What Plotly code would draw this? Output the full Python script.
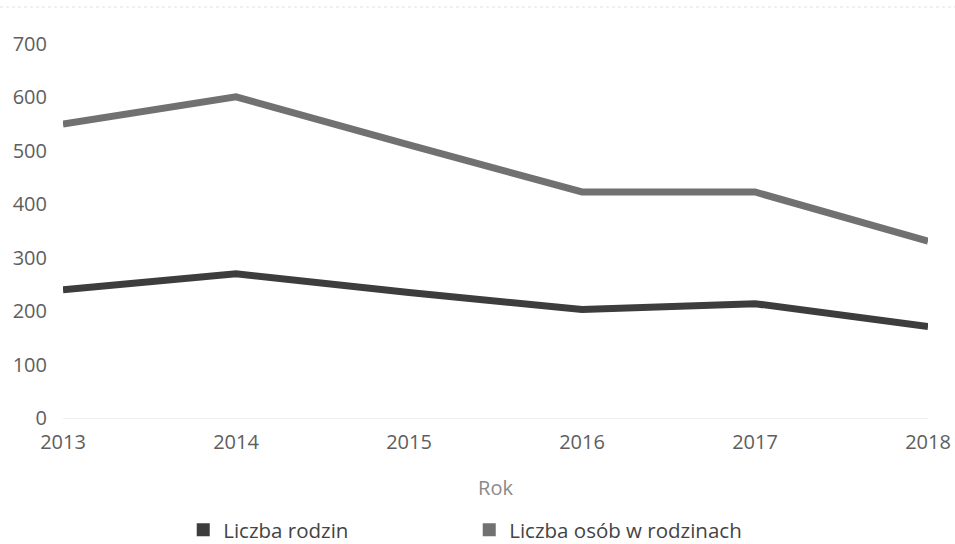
import plotly.graph_objects as go

years = [2013, 2014, 2015, 2016, 2017, 2018]
liczba_rodzin = [240, 270, 235, 203, 214, 171]
liczba_osob = [550, 601, 511, 423, 423, 331]
series_names = ["Liczba rodzin", "Liczba osób w rodzinach"]
series_colors = ["#3d3d3d", "#717171"]
y_ticks = [0, 100, 200, 300, 400, 500, 600, 700]

FONT = "Open Sans"

fig = go.Figure()
for vals, name, col in zip([liczba_rodzin, liczba_osob], series_names, series_colors):
    fig.add_trace(go.Scatter(x=years, y=vals, mode="lines", name=name,
                             line=dict(color=col, width=7), showlegend=False))
for name, col in zip(series_names, series_colors):
    fig.add_trace(go.Scatter(x=[None], y=[None], mode="markers", name=name,
                             marker=dict(symbol="square", size=13, color=col)))

fig.update_layout(
    width=955, height=544,
    margin=dict(l=63, r=27, t=44, b=126, autoexpand=False),
    paper_bgcolor="white", plot_bgcolor="white",
    font=dict(family=FONT, size=20, color="#666666"),
    xaxis=dict(range=[2013, 2018], tickvals=years, ticktext=[str(y) for y in years],
               showgrid=False, zeroline=False, showline=False,
               ticklabelstandoff=10,
               tickfont=dict(size=20, color="#5e5e5e"),
               title=dict(text="Rok", standoff=26, font=dict(size=20, color="#8a8a8a"))),
    yaxis=dict(range=[0, 700], tickvals=y_ticks, showgrid=False,
               zeroline=True, zerolinecolor="#eeeeee", zerolinewidth=1,
               showline=False, ticklabelstandoff=15,
               tickfont=dict(size=20, color="#5e5e5e")),
    legend=dict(orientation="h", x=0.139, xanchor="left",
                yref="container", y=1 - 530 / 544, yanchor="middle",
                entrywidth=241, itemwidth=30,
                font=dict(size=20.5, color="#444444")),
    shapes=[dict(type="line", xref="paper", yref="paper",
                 x0=-63 / 865, x1=1 + 27 / 865, y0=(418 - 7) / 374, y1=(418 - 7) / 374,
                 line=dict(color="#e2e2e2", width=1, dash="dot"))],
)

fig.write_html("out.html", config={"displayModeBar": False},
               post_script="document.body.style.margin='0';document.body.style.overflow='hidden';")
